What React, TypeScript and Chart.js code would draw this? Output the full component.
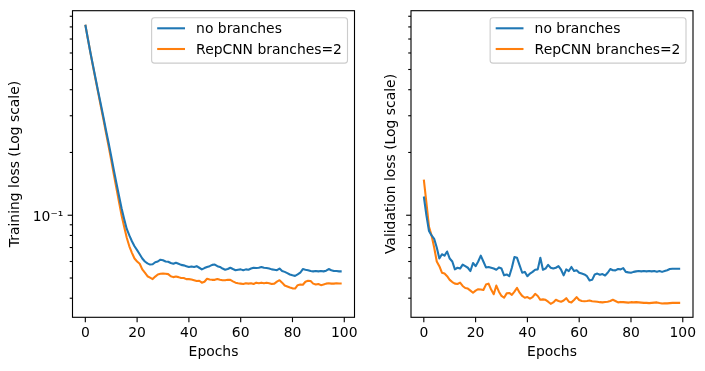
import React, { useEffect, useRef } from 'react';
import { Chart, registerables } from 'chart.js';

Chart.register(...registerables);

const FONT = '"DejaVu Sans", sans-serif';
const FS = 13.9;
const BLUE = '#1f77b4';
const ORANGE = '#ff7f0e';

const legendLabels = ['no branches', 'RepCNN branches=2'];
const xTickValues = [0, 20, 40, 60, 80, 100];
const yMajorTicks = [0.1];
const yMinorTicks = [0.04, 0.05, 0.06, 0.07, 0.08, 0.09, 0.2, 0.3, 0.4, 0.5, 0.6, 0.7, 0.8, 0.9];

const trainNoBranches = [
  0.82, 0.70, 0.60, 0.52, 0.45, 0.39, 0.34, 0.295, 0.255, 0.222,
  0.192, 0.165, 0.143, 0.124, 0.108, 0.096, 0.086, 0.080, 0.075, 0.071,
  0.068, 0.065, 0.062, 0.0600, 0.0588, 0.0580, 0.0582, 0.0595, 0.0600, 0.0612,
  0.0608, 0.0600, 0.0598, 0.0590, 0.0585, 0.0592, 0.0585, 0.0578, 0.0575, 0.0570,
  0.0565, 0.0568, 0.0565, 0.0570, 0.0560, 0.0550, 0.0558, 0.0565, 0.0570, 0.0578,
  0.0580, 0.0570, 0.0565, 0.0555, 0.0548, 0.0552, 0.0560, 0.0552, 0.0545, 0.0548,
  0.0550, 0.0545, 0.0550, 0.0548, 0.0555, 0.0560, 0.0558, 0.0560, 0.0565, 0.0560,
  0.0558, 0.0555, 0.0550, 0.0548, 0.0545, 0.0555, 0.0540, 0.0535, 0.0528, 0.0520,
  0.0515, 0.0512, 0.0520, 0.0530, 0.0552, 0.0548, 0.0545, 0.0540, 0.0538, 0.0540,
  0.0538, 0.0540, 0.0538, 0.0542, 0.0552, 0.0545, 0.0540, 0.0540, 0.0538, 0.0538,
];

const trainRepCNN = [
  0.82, 0.70, 0.60, 0.515, 0.445, 0.385, 0.332, 0.288, 0.248, 0.214,
  0.184, 0.157, 0.135, 0.116, 0.100, 0.088, 0.078, 0.071, 0.066, 0.062,
  0.060, 0.0585, 0.055, 0.053, 0.051, 0.0502, 0.0494, 0.0508, 0.0520, 0.0524,
  0.0525, 0.0524, 0.0522, 0.0510, 0.0505, 0.0508, 0.0505, 0.0500, 0.0500, 0.0494,
  0.0494, 0.0492, 0.0488, 0.0484, 0.0485, 0.0475, 0.0480, 0.0496, 0.0492, 0.0490,
  0.0490, 0.0495, 0.0490, 0.0488, 0.0488, 0.0490, 0.0490, 0.0482, 0.0475, 0.0472,
  0.0470, 0.0468, 0.0472, 0.0470, 0.0472, 0.0468, 0.0475, 0.0472, 0.0475, 0.0472,
  0.0474, 0.0472, 0.0468, 0.0470, 0.0480, 0.0488, 0.0475, 0.0460, 0.0455, 0.0450,
  0.0446, 0.0445, 0.0462, 0.0465, 0.0464, 0.0480, 0.0485, 0.0484, 0.0470, 0.0465,
  0.0468, 0.0462, 0.0465, 0.0470, 0.0472, 0.0470, 0.0470, 0.0472, 0.0471, 0.0471,
];

const valNoBranches = [
  0.123, 0.100, 0.084, 0.080, 0.077, 0.070, 0.062, 0.065, 0.064, 0.067,
  0.062, 0.060, 0.055, 0.056, 0.0555, 0.058, 0.057, 0.056, 0.054, 0.059,
  0.057, 0.060, 0.064, 0.060, 0.0562, 0.0565, 0.0560, 0.0555, 0.0548, 0.0562,
  0.0555, 0.0515, 0.0520, 0.0510, 0.0560, 0.0630, 0.0625, 0.0575, 0.0530, 0.0535,
  0.0510, 0.0525, 0.0535, 0.0548, 0.0550, 0.0625, 0.0548, 0.0555, 0.0578, 0.0560,
  0.0555, 0.0560, 0.0570, 0.0548, 0.0515, 0.0550, 0.0540, 0.0565, 0.0540, 0.0545,
  0.0530, 0.0525, 0.0520, 0.0510, 0.0487, 0.0490, 0.0520, 0.0525, 0.0518, 0.0522,
  0.0514, 0.0530, 0.0552, 0.0545, 0.0544, 0.0552, 0.0550, 0.0558, 0.0535, 0.0532,
  0.0530, 0.0535, 0.0538, 0.0540, 0.0538, 0.0540, 0.0538, 0.0540, 0.0538, 0.0540,
  0.0536, 0.0540, 0.0535, 0.0540, 0.0545, 0.0552, 0.0554, 0.0554, 0.0554, 0.0554,
];

const valRepCNN = [
  0.148, 0.115, 0.088, 0.080, 0.070, 0.060, 0.057, 0.053, 0.0525, 0.051,
  0.049, 0.0478, 0.0470, 0.0468, 0.0475, 0.0458, 0.0448, 0.0445, 0.0435, 0.0425,
  0.0435, 0.0442, 0.0440, 0.0438, 0.0465, 0.0470, 0.0440, 0.0418, 0.0460, 0.0430,
  0.0410, 0.0402, 0.0422, 0.0424, 0.0415, 0.0430, 0.0448, 0.0425, 0.0410, 0.0402,
  0.0405, 0.0398, 0.0405, 0.0420, 0.0410, 0.0393, 0.0395, 0.0393, 0.0385, 0.0376,
  0.0382, 0.0393, 0.0388, 0.0385, 0.0390, 0.0400, 0.0385, 0.0382, 0.0392, 0.0405,
  0.0392, 0.0388, 0.0387, 0.0388, 0.0390, 0.0387, 0.0386, 0.0385, 0.0383, 0.0382,
  0.0384, 0.0385, 0.0388, 0.0393, 0.0388, 0.0382, 0.0384, 0.0383, 0.0382, 0.0381,
  0.0383, 0.0382, 0.0383, 0.0382, 0.0381, 0.0380, 0.0380, 0.0379, 0.0380, 0.0381,
  0.0382, 0.0379, 0.0377, 0.0378, 0.0378, 0.0379, 0.0380, 0.0380, 0.0380, 0.0380,
];

const X_MIN = -4.95;
const X_MAX = 103.95;
const Y_MIN = 0.0324;
const Y_MAX = 0.957;

type PanelSpec = {
  width: number;
  yAxisWidth: number;
  rightPad: number;
  yTitle: string;
  yTitlePad: number;
  showYLabels: boolean;
  series: number[][];
};

const decorPlugin = {
  id: 'mplDecor',
  afterDraw(chart: any) {
    const { ctx, chartArea: a, scales } = chart;
    ctx.save();
    ctx.strokeStyle = '#000';
    ctx.lineWidth = 1.11;
    ctx.lineCap = 'butt';
    const line = (x1: number, y1: number, x2: number, y2: number) => {
      ctx.beginPath();
      ctx.moveTo(x1, y1);
      ctx.lineTo(x2, y2);
      ctx.stroke();
    };
    xTickValues.forEach((v) => {
      const px = scales.x.getPixelForValue(v);
      line(px, a.bottom, px, a.bottom + 4.86);
    });
    yMajorTicks.forEach((v) => {
      const py = scales.y.getPixelForValue(v);
      line(a.left, py, a.left - 4.86, py);
    });
    yMinorTicks.forEach((v) => {
      const py = scales.y.getPixelForValue(v);
      line(a.left, py, a.left - 2.78, py);
    });
    ctx.strokeRect(a.left, a.top, a.right - a.left, a.bottom - a.top);

    // legend (matplotlib style, upper right)
    ctx.font = `${FS}px ${FONT}`;
    const textW = Math.max(...legendLabels.map((t) => ctx.measureText(t).width));
    const borderPad = 0.4 * FS;
    const handleLen = 2 * FS;
    const handlePad = 0.8 * FS;
    const boxW = 2 * borderPad + handleLen + handlePad + textW;
    const boxH = 45.4;
    const right = a.right - 7;
    const top = a.top + 7;
    const left = right - boxW;
    ctx.beginPath();
    ctx.roundRect(left, top, boxW, boxH, 2.8);
    ctx.fillStyle = 'rgba(255,255,255,0.8)';
    ctx.fill();
    ctx.strokeStyle = '#cccccc';
    ctx.lineWidth = 1.11;
    ctx.stroke();
    const rows = [top + 10.6, top + 31.3];
    const colors = [BLUE, ORANGE];
    legendLabels.forEach((t, i) => {
      ctx.strokeStyle = colors[i];
      ctx.lineWidth = 2.08;
      line(left + borderPad, rows[i], left + borderPad + handleLen, rows[i]);
      ctx.fillStyle = '#000';
      ctx.textAlign = 'left';
      ctx.textBaseline = 'alphabetic';
      ctx.fillText(t, left + borderPad + handleLen + handlePad, rows[i] + 5);
    });
    ctx.restore();
  },
};

function makeConfig(spec: PanelSpec): any {
  const colors = [BLUE, ORANGE];
  return {
    type: 'line',
    data: {
      datasets: spec.series.map((vals, si) => ({
        label: legendLabels[si],
        data: vals.map((v, i) => ({ x: i, y: v })),
        borderColor: colors[si],
        borderWidth: 2.08,
        borderJoinStyle: 'round',
        pointRadius: 0,
        tension: 0,
        fill: false,
      })),
    },
    options: {
      animation: false,
      responsive: false,
      devicePixelRatio: 1,
      layout: { padding: { left: 0, top: 10.7, right: spec.rightPad, bottom: 0 } },
      scales: {
        x: {
          type: 'linear',
          min: X_MIN,
          max: X_MAX,
          grid: { display: false, drawTicks: false },
          border: { display: false },
          afterBuildTicks: (s: any) => {
            s.ticks = xTickValues.map((v) => ({ value: v }));
          },
          afterFit: (s: any) => {
            s.height = 371 - 317.3;
            s.paddingLeft = 0;
            s.paddingRight = 0;
          },
          ticks: {
            padding: 7.9,
            color: '#000',
            maxRotation: 0,
            autoSkip: false,
            font: { family: FONT, size: FS },
          },
          title: {
            display: true,
            text: 'Epochs',
            color: '#000',
            font: { family: FONT, size: FS },
            padding: { top: 0, bottom: 10.2 },
          },
        },
        y: {
          type: 'logarithmic',
          min: Y_MIN,
          max: Y_MAX,
          grid: { display: false, drawTicks: false },
          border: { display: false },
          afterBuildTicks: (s: any) => {
            s.ticks = yMajorTicks.map((v) => ({ value: v }));
          },
          afterFit: (s: any) => {
            s.width = spec.yAxisWidth;
            s.paddingTop = 0;
            s.paddingBottom = 0;
          },
          ticks: {
            display: spec.showYLabels,
            padding: 9.2,
            labelOffset: 2.5,
            color: '#000',
            font: { family: FONT, size: FS },
            callback: (v: any) => (Math.abs(Number(v) - 0.1) < 1e-9 ? '10\u207B\u00B9' : ''),
          },
          title: {
            display: true,
            text: spec.yTitle,
            color: '#000',
            font: { family: FONT, size: FS },
            padding: { top: spec.yTitlePad, bottom: 0 },
          },
        },
      },
      plugins: {
        legend: { display: false },
        tooltip: { enabled: false },
      },
    },
    plugins: [decorPlugin],
  };
}

const leftSpec: PanelSpec = {
  width: 383,
  yAxisWidth: 72.5,
  rightPad: 383 - 354.5,
  yTitle: 'Training loss (Log scale)',
  yTitlePad: 6.7,
  showYLabels: true,
  series: [trainNoBranches, trainRepCNN],
};

const rightSpec: PanelSpec = {
  width: 322,
  yAxisWidth: 411 - 383,
  rightPad: 322 - (693 - 383),
  yTitle: 'Validation loss (Log scale)',
  yTitlePad: 0,
  showYLabels: false,
  series: [valNoBranches, valRepCNN],
};

function Panel({ spec, left }: { spec: PanelSpec; left: number }) {
  const ref = useRef<HTMLCanvasElement | null>(null);
  useEffect(() => {
    if (!ref.current) return;
    const chart = new Chart(ref.current, makeConfig(spec));
    return () => chart.destroy();
  }, [spec]);
  return (
    <canvas
      ref={ref}
      width={spec.width}
      height={371}
      style={{ position: 'absolute', left, top: 0, width: spec.width, height: 371 }}
    />
  );
}

export default function App() {
  return (
    <div style={{ position: 'absolute', left: 0, top: 0, width: 705, height: 371, background: '#fff' }}>
      <Panel spec={leftSpec} left={0} />
      <Panel spec={rightSpec} left={383} />
    </div>
  );
}
